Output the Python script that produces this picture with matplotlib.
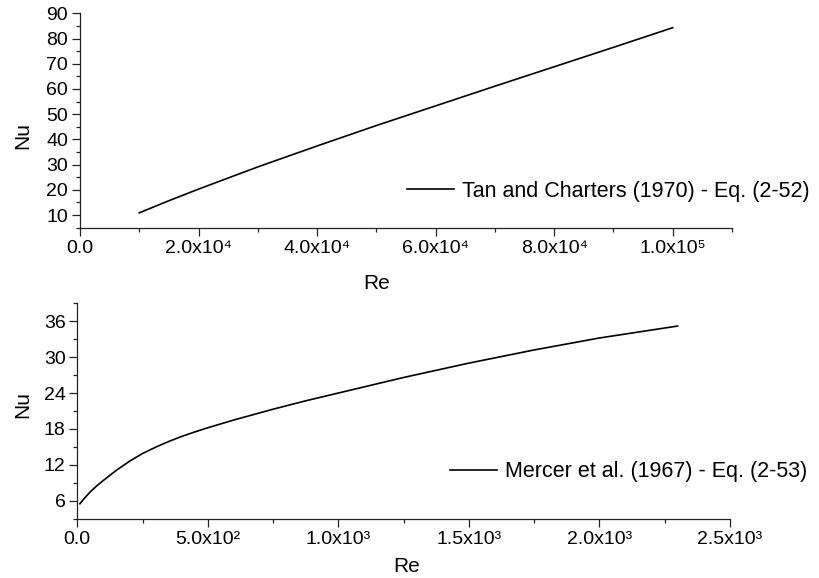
import matplotlib
matplotlib.use("Agg")
import matplotlib.pyplot as plt
from matplotlib.ticker import MultipleLocator, FuncFormatter
import numpy as np

plt.rcParams['font.family'] = ['Liberation Sans', 'DejaVu Sans']

## Data ############################################

# Tan and Charters (1970) - Eq. (2-52)
re_tan = [1.0e4, 1.5e4, 2.0e4, 3.0e4, 4.0e4, 5.0e4, 6.0e4, 7.0e4, 8.0e4, 9.0e4, 1.0e5]
nu_tan = [10.9, 15.7, 20.3, 29.1, 37.4, 45.5, 53.3, 61.1, 68.8, 76.5, 84.3]

# Mercer et al. (1967) - Eq. (2-53)
re_mer = [10, 25, 50, 75, 100, 150, 200, 250, 300, 350, 400, 450, 500, 600, 750, 875,
          1000, 1250, 1500, 1750, 2000, 2300]
nu_mer = [5.5, 6.3, 7.5, 8.5, 9.4, 11.1, 12.6, 13.9, 14.95, 15.9, 16.75, 17.5, 18.2, 19.5, 21.3, 22.7,
          24.0, 26.6, 29.0, 31.2, 33.2, 35.2]

lab_tan = "Tan and Charters (1970) - Eq. (2-52)"
lab_mer = "Mercer et al. (1967) - Eq. (2-53)"

## Helpers ########################

SUP = str.maketrans('0123456789', '⁰¹²³⁴⁵⁶⁷⁸⁹')

def sci_fmt(v, pos):
    if v == 0:
        return "0.0"
    e = int(np.floor(np.log10(abs(v)) + 1e-9))
    m = v / 10**e
    return "%.1fx10%s" % (m, str(e).translate(SUP))

def style_axes(ax):
    for s in ['top', 'right']:
        ax.spines[s].set_visible(False)
    for s in ['left', 'bottom']:
        ax.spines[s].set_linewidth(0.9)
        ax.spines[s].set_color('#222222')
    ax.tick_params(which='major', direction='out', length=6, width=0.9,
                   labelsize=14, color='#222222')
    ax.tick_params(which='minor', direction='out', length=3, width=0.9, color='#222222')
    ax.tick_params(axis='x', which='major', pad=3)
    ax.tick_params(axis='y', which='major', pad=2.5)
    ax.xaxis.set_major_formatter(FuncFormatter(sci_fmt))

lw = 1.2
fs_lab = 15
fs_leg = 15.5

fig = plt.figure(figsize=(8.2, 5.78), dpi=100)

# Top ###############################################
ax1 = fig.add_axes([80/820, 1 - 227.7/578, 652/820, 214.4/578])
ax1.plot(re_tan, nu_tan, 'k-', linewidth=lw, label=lab_tan)
ax1.set_xlim(0, 1.1e5)
ax1.set_ylim(5, 90)
ax1.xaxis.set_major_locator(MultipleLocator(2e4))
ax1.xaxis.set_minor_locator(MultipleLocator(1e4))
ax1.yaxis.set_major_locator(MultipleLocator(10))
ax1.yaxis.set_minor_locator(MultipleLocator(5))
style_axes(ax1)
ax1.set_xlabel("Re", fontsize=fs_lab, va='center')
ax1.set_ylabel("Nu", fontsize=fs_lab, va='center')
ax1.xaxis.set_label_coords(0.455, -0.258)
ax1.yaxis.set_label_coords(-0.088, 0.43)
ax1.legend(loc='center left', bbox_to_anchor=(0.501, 0.171), frameon=False,
           fontsize=fs_leg, handlelength=2.2, handletextpad=0.35,
           borderpad=0, borderaxespad=0)

# Bottom ###############################################
ax2 = fig.add_axes([77.3/820, 1 - 518.7/578, 652.5/820, 215.4/578])
ax2.plot(re_mer, nu_mer, 'k-', linewidth=lw, label=lab_mer)
ax2.set_xlim(0, 2500)
ax2.set_ylim(3, 39)
ax2.xaxis.set_major_locator(MultipleLocator(500))
ax2.xaxis.set_minor_locator(MultipleLocator(250))
ax2.yaxis.set_major_locator(MultipleLocator(6))
ax2.yaxis.set_minor_locator(MultipleLocator(3))
style_axes(ax2)
ax2.set_xlabel("Re", fontsize=fs_lab, va='center')
ax2.set_ylabel("Nu", fontsize=fs_lab, va='center')
ax2.xaxis.set_label_coords(0.505, -0.22)
ax2.yaxis.set_label_coords(-0.084, 0.532)
ax2.legend(loc='center left', bbox_to_anchor=(0.571, 0.218), frameon=False,
           fontsize=fs_leg, handlelength=2.2, handletextpad=0.35,
           borderpad=0, borderaxespad=0)

fig.savefig("out.png", dpi=100)
